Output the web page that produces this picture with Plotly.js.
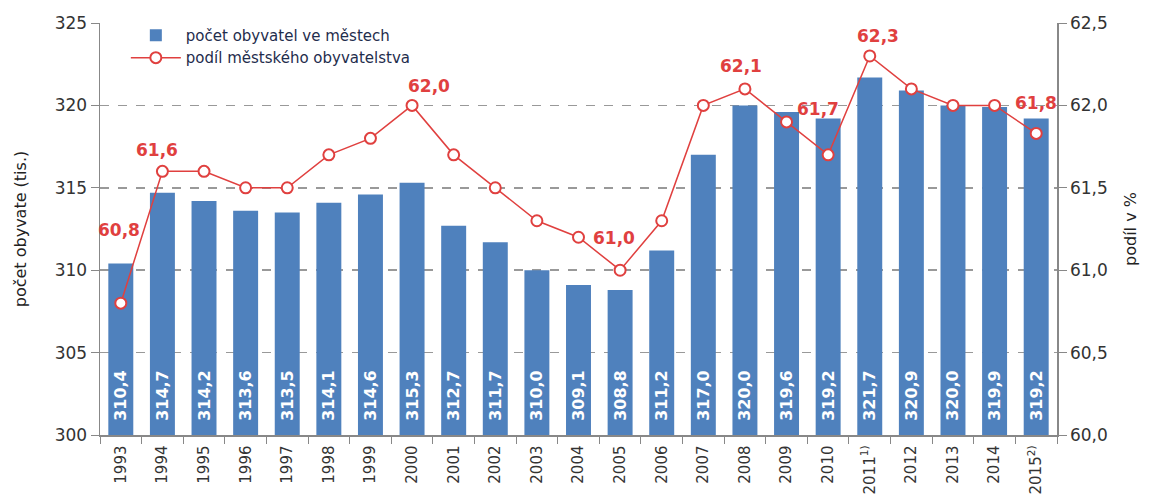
<!DOCTYPE html>
<html>
<head>
<meta charset="utf-8">
<script src="https://cdn.plot.ly/plotly-3.0.1.min.js"></script>
<style>html,body{margin:0;padding:0;background:#fff}#chart{width:1151px;height:497px}</style>
</head>
<body>
<div id="chart"></div>
<script>
const years = ['1993','1994','1995','1996','1997','1998','1999','2000','2001','2002','2003','2004','2005','2006','2007','2008','2009','2010','2011','2012','2013','2014','2015'];
const yearLabels = ['1993','1994','1995','1996','1997','1998','1999','2000','2001','2002','2003','2004','2005','2006','2007','2008','2009','2010','2011<sup>1)</sup>','2012','2013','2014','2015<sup>2)</sup>'];
const population = [310.4,314.7,314.2,313.6,313.5,314.1,314.6,315.3,312.7,311.7,310.0,309.1,308.8,311.2,317.0,320.0,319.6,319.2,321.7,320.9,320.0,319.9,319.2];
const urbanShare = [60.8,61.6,61.6,61.5,61.5,61.7,61.8,62.0,61.7,61.5,61.3,61.2,61.0,61.3,62.0,62.1,61.9,61.7,62.3,62.1,62.0,62.0,61.83];
const labelledYears = ['1993','1994','2000','2005','2008','2010','2011','2015'];
const seriesNames = ['počet obyvatel ve městech','podíl městského obyvatelstva'];

// style: label offsets (px, screen: right / down) for the share labels
const labelOffsets = {'1993':[-2,-73],'1994':[-5,-21],'2000':[17,-19],'2005':[-6,-32],'2008':[-4,-23],'2010':[-10,-46],'2011':[8,-20],'2015':[0,-30]};

const fmt = v => v.toFixed(1).replace('.', ',');
const BASE = 300;
const font = 'DejaVu Sans, Verdana, sans-serif';
const red = '#e0403f';

const bars = {
  type: 'bar', name: seriesNames[0], x: years, y: population.map(v => v - BASE), base: BASE,
  marker: {color: '#4f81bd'},
  text: population.map(v => '\u00a0\u00a0' + fmt(v)),
  textposition: 'inside', insidetextanchor: 'start', textangle: -90, constraintext: 'none',
  textfont: {color: '#ffffff', size: 16, family: font, weight: 'bold'},
  hoverinfo: 'skip'
};
const line = {
  type: 'scatter', mode: 'lines+markers', name: seriesNames[1], x: years, y: urbanShare, yaxis: 'y2',
  line: {color: red, width: 1.5},
  marker: {symbol: 'circle', size: 11, color: '#ffffff', line: {color: red, width: 2}},
  hoverinfo: 'skip'
};

const annotations = labelledYears.map(yr => {
  const i = years.indexOf(yr);
  const off = labelOffsets[yr];
  return {x: i, y: urbanShare[i], xref: 'x', yref: 'y2', text: fmt(Math.round(urbanShare[i]*10)/10),
    showarrow: false, xshift: off[0], yshift: -off[1],
    font: {color: red, size: 17, family: font, weight: 'bold'}};
});

const layout = {
  width: 1151, height: 497,
  margin: {l: 100, r: 94, t: 23, b: 62},
  paper_bgcolor: '#fff', plot_bgcolor: '#fff',
  separators: ', ',
  bargap: 0.4,
  showlegend: true,
  legend: {x: 0.027, y: 1.01, xanchor: 'left', yanchor: 'top', bgcolor: 'rgba(0,0,0,0)',
    font: {family: font, size: 15, color: '#1f2d4d'}, tracegroupgap: 0, itemwidth: 50},
  font: {family: font, color: '#333'},
  xaxis: {
    type: 'category', tickmode: 'array', tickvals: years, ticktext: yearLabels,
    tickangle: -90, tickson: 'boundaries', ticks: 'outside', ticklen: 7, tickcolor: '#888',
    ticklabelstandoff: 3,
    showline: true, linecolor: '#888', linewidth: 1.5, showgrid: false,
    tickfont: {size: 15, family: font, color: '#333'}, range: [-0.5, 22.5]
  },
  yaxis: {
    range: [300, 325], dtick: 5, ticks: 'outside', ticklen: 8, tickcolor: '#888',
    showline: true, linecolor: '#888', linewidth: 1.5,
    showgrid: true, gridcolor: '#999', gridwidth: 1.5, griddash: 'dash', zeroline: false,
    tickfont: {size: 17, family: font, color: '#333'},
    title: {text: 'počet obyvate (tis.)', font: {size: 16, family: font, color: '#222'}, standoff: 24}
  },
  yaxis2: {
    overlaying: 'y', side: 'right', range: [60, 62.5], dtick: 0.5, tickformat: '.1f',
    ticks: 'outside', ticklen: 8, tickcolor: '#888', showline: true, linecolor: '#888', linewidth: 1.5,
    showgrid: false, zeroline: false,
    tickfont: {size: 17, family: font, color: '#333'},
    title: {text: 'podíl v %', font: {size: 16, family: font, color: '#222'}, standoff: 18}
  },
  annotations: annotations
};

Plotly.newPlot('chart', [bars, line], layout, {staticPlot: true, displayModeBar: false});
</script>
</body>
</html>
